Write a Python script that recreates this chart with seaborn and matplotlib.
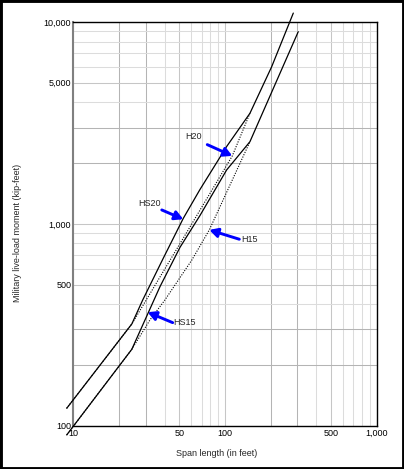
import numpy as np
import pandas as pd
import matplotlib
matplotlib.use("Agg")
from matplotlib import pyplot as plt
from matplotlib.patches import Rectangle
import seaborn as sns

# values (span in ft, moment in kip-ft)
hs20_span = [9.05, 24.3, 28.7, 39.2, 53.1, 68.4, 102.5, 146, 203, 282]
hs20_moment = [122, 319, 420, 676, 1065, 1480, 2415, 3530, 6000, 11070]

h20_span = [9.05, 24.3, 27.6, 57.2, 111.7, 146]
h20_moment = [122, 319, 374, 933, 2171, 3530]

hs15_span = [9.05, 24.3, 37.3, 50.5, 68.4, 102.5, 146, 304]
hs15_moment = [90, 239, 489, 765, 1100, 1849, 2553, 8955]

h15_span = [9.05, 24.3, 32, 40.2, 60.3, 78.8, 146]
h15_moment = [90, 239, 334, 420, 660, 933, 2553]

x_ticks = [10, 20, 30, 40, 50, 60, 70, 80, 90, 100, 200, 300, 400, 500, 600, 700, 800, 900, 1000]
x_labels = {10: "10", 50: "50", 100: "100", 500: "500", 1000: "1,000"}
y_ticks = [100, 200, 300, 400, 500, 600, 700, 800, 900, 1000, 2000, 3000, 4000, 5000,
           6000, 7000, 8000, 9000, 10000]
y_labels = {100: "100", 500: "500", 1000: "1,000", 5000: "5,000", 10000: "10,000"}

sns.set_theme(style="white")
plt.rcParams['font.family'] = ['Liberation Sans', 'DejaVu Sans']

W, H = 404, 469
fig = plt.figure(figsize=(W / 100, H / 100), dpi=100)
ax = fig.add_axes([73.3 / W, 1 - 425.7 / H, (376.7 - 73.3) / W, (425.7 - 22) / H])
ax.set_xscale('log')
ax.set_yscale('log')

sns.lineplot(x=hs20_span, y=hs20_moment, ax=ax, color='black', lw=0.9, clip_on=False, zorder=5)
sns.lineplot(x=hs15_span, y=hs15_moment, ax=ax, color='black', lw=0.9, clip_on=False, zorder=5)
sns.lineplot(x=h20_span, y=h20_moment, ax=ax, color='black', lw=0.8,
             linestyle=(0, (1, 1.3)), clip_on=False, zorder=4)
sns.lineplot(x=h15_span, y=h15_moment, ax=ax, color='black', lw=0.8,
             linestyle=(0, (1, 1.3)), clip_on=False, zorder=4)

ax.set_xlim(10, 1000)
ax.set_ylim(100, 10000)

ax.set_xticks(x_ticks)
ax.set_xticklabels([x_labels.get(v, "") for v in x_ticks])
ax.set_yticks(y_ticks)
ax.set_yticklabels([y_labels.get(v, "") for v in y_ticks])
ax.minorticks_off()
ax.tick_params(axis='x', length=0, pad=2.5, labelsize=6.5, colors='black')
ax.tick_params(axis='y', length=0, pad=1.5, labelsize=6.5, colors='black')

ax.grid(True, lw=0.75)
def grid_color(v):
    m = round(v / 10 ** np.floor(np.log10(v)))
    if m in (2, 3):
        return '#b4b4b4'
    if m in (1, 5):
        return '#c6c6c6'
    return '#dcdcdc'
for t, v in zip(ax.xaxis.get_major_ticks(), x_ticks):
    t.gridline.set_color(grid_color(v))
for t, v in zip(ax.yaxis.get_major_ticks(), y_ticks):
    t.gridline.set_color(grid_color(v))

for side in ['top', 'right', 'bottom']:
    ax.spines[side].set_color('black')
    ax.spines[side].set_linewidth(1.0)
ax.spines['left'].set_color('#808080')
ax.spines['left'].set_linewidth(1.5)

fig.text(216.7 / W, 1 - 453.3 / H, "Span length (in feet)", ha='center', va='center', fontsize=6.5)
fig.text(17.3 / W, 1 - 233 / H, "Military live-load moment (kip-feet)", ha='center', va='center',
         rotation=90, fontsize=6.5)

# labels with blue arrows
arrow = dict(arrowstyle='-|>,head_length=0.55,head_width=0.3', color='#0000ff', lw=2.1,
             mutation_scale=9, shrinkA=0, shrinkB=0)
ax.annotate("", xy=(111.7, 2171), xytext=(76.4, 2469), arrowprops=arrow, zorder=6)
ax.text(61.8, 2704, "H20", ha='center', va='center', fontsize=6.5)
ax.annotate("", xy=(53.1, 1054), xytext=(38.3, 1172), arrowprops=arrow, zorder=6)
ax.text(31.7, 1265, "HS20", ha='center', va='center', fontsize=6.5)
ax.annotate("", xy=(78.8, 933), xytext=(124.3, 839), arrowprops=arrow, zorder=6)
ax.text(128.8, 839, "H15", ha='left', va='center', fontsize=6.5)
ax.annotate("", xy=(30.9, 365), xytext=(45.2, 324), arrowprops=arrow, zorder=6)
ax.text(45.4, 323, "HS15", ha='left', va='center', fontsize=6.5)

fig.patches.append(Rectangle((0, 0), 1, 1, transform=fig.transFigure, fill=False,
                             edgecolor='black', lw=3.5))

fig.savefig('out.png', dpi=100)
